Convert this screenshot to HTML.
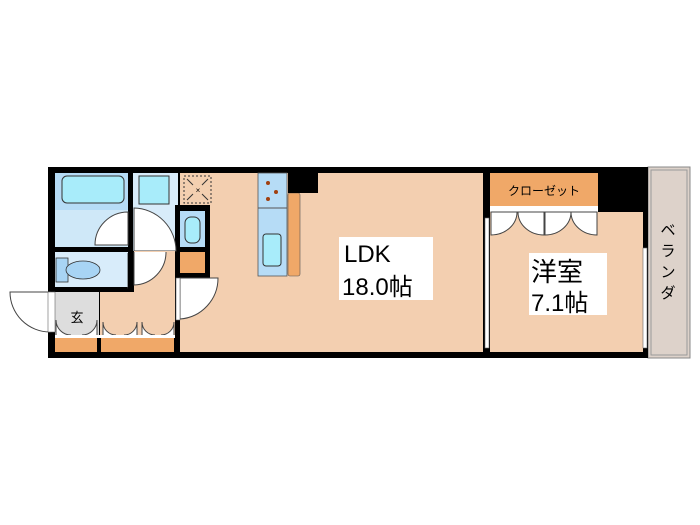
<!DOCTYPE html>
<html><head><meta charset="utf-8"><style>body{margin:0;background:#fff}svg{display:block}</style></head><body>
<svg width="700" height="525" viewBox="0 0 700 525" xmlns="http://www.w3.org/2000/svg" font-family="Liberation Sans, Noto Sans CJK JP, sans-serif">
<!-- balcony -->
<rect x="648" y="167" width="42" height="191" fill="#ddd2ca" stroke="#888" stroke-width="1"/>
<rect x="651" y="170" width="36" height="185" fill="none" stroke="#999" stroke-width="1"/>
<text x="668" y="235" font-size="15" text-anchor="middle">ベ</text>
<text x="668" y="256" font-size="15" text-anchor="middle">ラ</text>
<text x="668" y="277" font-size="15" text-anchor="middle">ン</text>
<text x="668" y="298" font-size="15" text-anchor="middle">ダ</text>
<!-- outer frame -->
<rect x="48" y="167" width="600" height="191" fill="#000"/>
<!-- LDK -->
<rect x="180" y="173" width="303" height="179" fill="#f3cfb0"/>
<!-- western -->
<rect x="490" y="212" width="153" height="140" fill="#f3cfb0"/>
<rect x="490" y="173" width="108" height="33" fill="#f0a868"/>
<text x="544" y="195" font-size="12" text-anchor="middle">クローゼット</text>
<rect x="490" y="206" width="108" height="6" fill="#fff"/>
<path d="M491 212 v23 a26 23 0 0 0 26 -23 z M544 212 v23 a26 23 0 0 1 -26 -23 z M545 212 v23 a26 23 0 0 0 26 -23 z M597 212 v23 a26 23 0 0 1 -26 -23 z" fill="#fff" stroke="#444" stroke-width="1"/>
<rect x="485" y="218" width="4" height="130" fill="#fff" stroke="#666" stroke-width="0.6"/>
<rect x="643" y="248" width="4" height="100" fill="#fff" stroke="#666" stroke-width="0.6"/>
<!-- bathroom -->
<rect x="55" y="173" width="73" height="74" fill="#cfe8f8"/>
<rect x="55" y="173" width="73" height="37" fill="#b6dcf6"/>
<rect x="62" y="176" width="62" height="27" rx="5" fill="#a8ecfa" stroke="#333"/>
<path d="M128 245 h-33 a33 33 0 0 1 33 -33 z" fill="#fff" stroke="#444"/>
<!-- washroom -->
<rect x="133" y="173" width="45" height="78" fill="#d8ecfa"/>
<rect x="139" y="176" width="30" height="28" fill="#a8ecfa" stroke="#333"/>
<rect x="175" y="205" width="5" height="47" fill="#000"/>
<path d="M134 208 v43 h42 a43 43 0 0 0 -42 -43 z" fill="#fff" stroke="#444"/>
<rect x="180" y="211" width="25" height="36" fill="#b6dcf6"/>
<rect x="185" y="217" width="15" height="26" rx="6" fill="#a8ecfa" stroke="#333"/>
<rect x="175" y="205" width="35" height="6" fill="#000"/>
<rect x="205" y="205" width="5" height="74" fill="#000"/>
<rect x="180" y="247" width="25" height="5" fill="#000"/>
<rect x="180" y="252" width="25" height="21" fill="#f0a868"/>
<rect x="175" y="273" width="35" height="6" fill="#000"/>
<!-- fridge -->
<rect x="184" y="176" width="27" height="27" fill="none" stroke="#333" stroke-dasharray="2,2"/>
<path d="M187 179 l6 6 M208 179 l-6 6 M187 200 l6 -6 M208 200 l-6 -6" stroke="#333"/>
<text x="198" y="193" font-size="8" text-anchor="middle">×</text>
<!-- toilet room -->
<rect x="55" y="252" width="73" height="35" fill="#d8ecfa"/>
<rect x="56" y="258" width="12" height="24" fill="#a8d4f4" stroke="#333" stroke-width="0.8"/>
<ellipse cx="83" cy="270" rx="17" ry="9" fill="#a8d4f4" stroke="#333" stroke-width="0.8"/>
<path d="M128 253 v34 a34 34 0 0 0 0 -34" fill="#fff" stroke="#444"/>
<rect x="128" y="252" width="6" height="40" fill="#000"/>
<!-- hallway -->
<rect x="100" y="292" width="75" height="45" fill="#f3cfb0"/>
<rect x="134" y="251" width="41" height="41" fill="#f3cfb0"/>
<path d="M134 252 v33 a33 33 0 0 0 32 -33" fill="#fff" stroke="#444"/>
<rect x="55" y="292" width="44" height="45" fill="#ddd"/>
<text x="77" y="322" font-size="13" text-anchor="middle">玄</text>
<path d="M10 292 h40 v40 a40 40 0 0 1 -40 -40 z" fill="#fff" stroke="#444"/>
<rect x="48" y="292" width="7" height="40" fill="#fff" stroke="#666" stroke-width="0.6"/>
<path d="M56 335 v-15 a15 15 0 0 0 15 15 M97 335 v-15 a15 15 0 0 1 -15 15 M103 335 v-13 a13 13 0 0 0 13 13 M137 335 v-13 a13 13 0 0 1 -13 13 M142 335 v-13 a13 13 0 0 0 13 13 M174 335 v-13 a13 13 0 0 1 -13 13" fill="#fff" stroke="#444"/>
<rect x="55" y="335" width="120" height="3" fill="#fff"/>
<rect x="55" y="338" width="42" height="14" fill="#f0a868"/>
<rect x="101" y="338" width="73" height="14" fill="#f0a868"/>
<!-- door into LDK -->
<path d="M180 278 v41 a41 41 0 0 0 38 -41 z" fill="#fff" stroke="#444"/>
<rect x="176" y="278" width="4" height="42" fill="#fff" stroke="#666" stroke-width="0.6"/>
<!-- kitchen -->
<rect x="258" y="173" width="29" height="103" fill="#b6dcf6" stroke="#555" stroke-width="0.8"/>
<line x1="258" y1="208" x2="287" y2="208" stroke="#555"/>
<circle cx="268" cy="183" r="2" fill="#a04010"/><circle cx="276" cy="192" r="2" fill="#a04010"/><circle cx="268" cy="199" r="2" fill="#a04010"/>
<rect x="263" y="234" width="18" height="32" rx="3" fill="#a8ecfa" stroke="#333"/>
<rect x="288" y="193" width="12" height="83" rx="2" fill="#f0a868" stroke="#555" stroke-width="0.6"/>
<rect x="288" y="173" width="30" height="20" fill="#000"/>
<!-- labels -->
<rect x="339" y="237" width="94" height="63" fill="#fff"/>
<text x="344" y="262" font-size="24">LDK</text>
<text x="342" y="295" font-size="24">18.0帖</text>
<rect x="529" y="253" width="78" height="62" fill="#fff"/>
<text x="531" y="281" font-size="26">洋室</text>
<text x="531" y="311" font-size="24">7.1帖</text>
</svg>
</body></html>
